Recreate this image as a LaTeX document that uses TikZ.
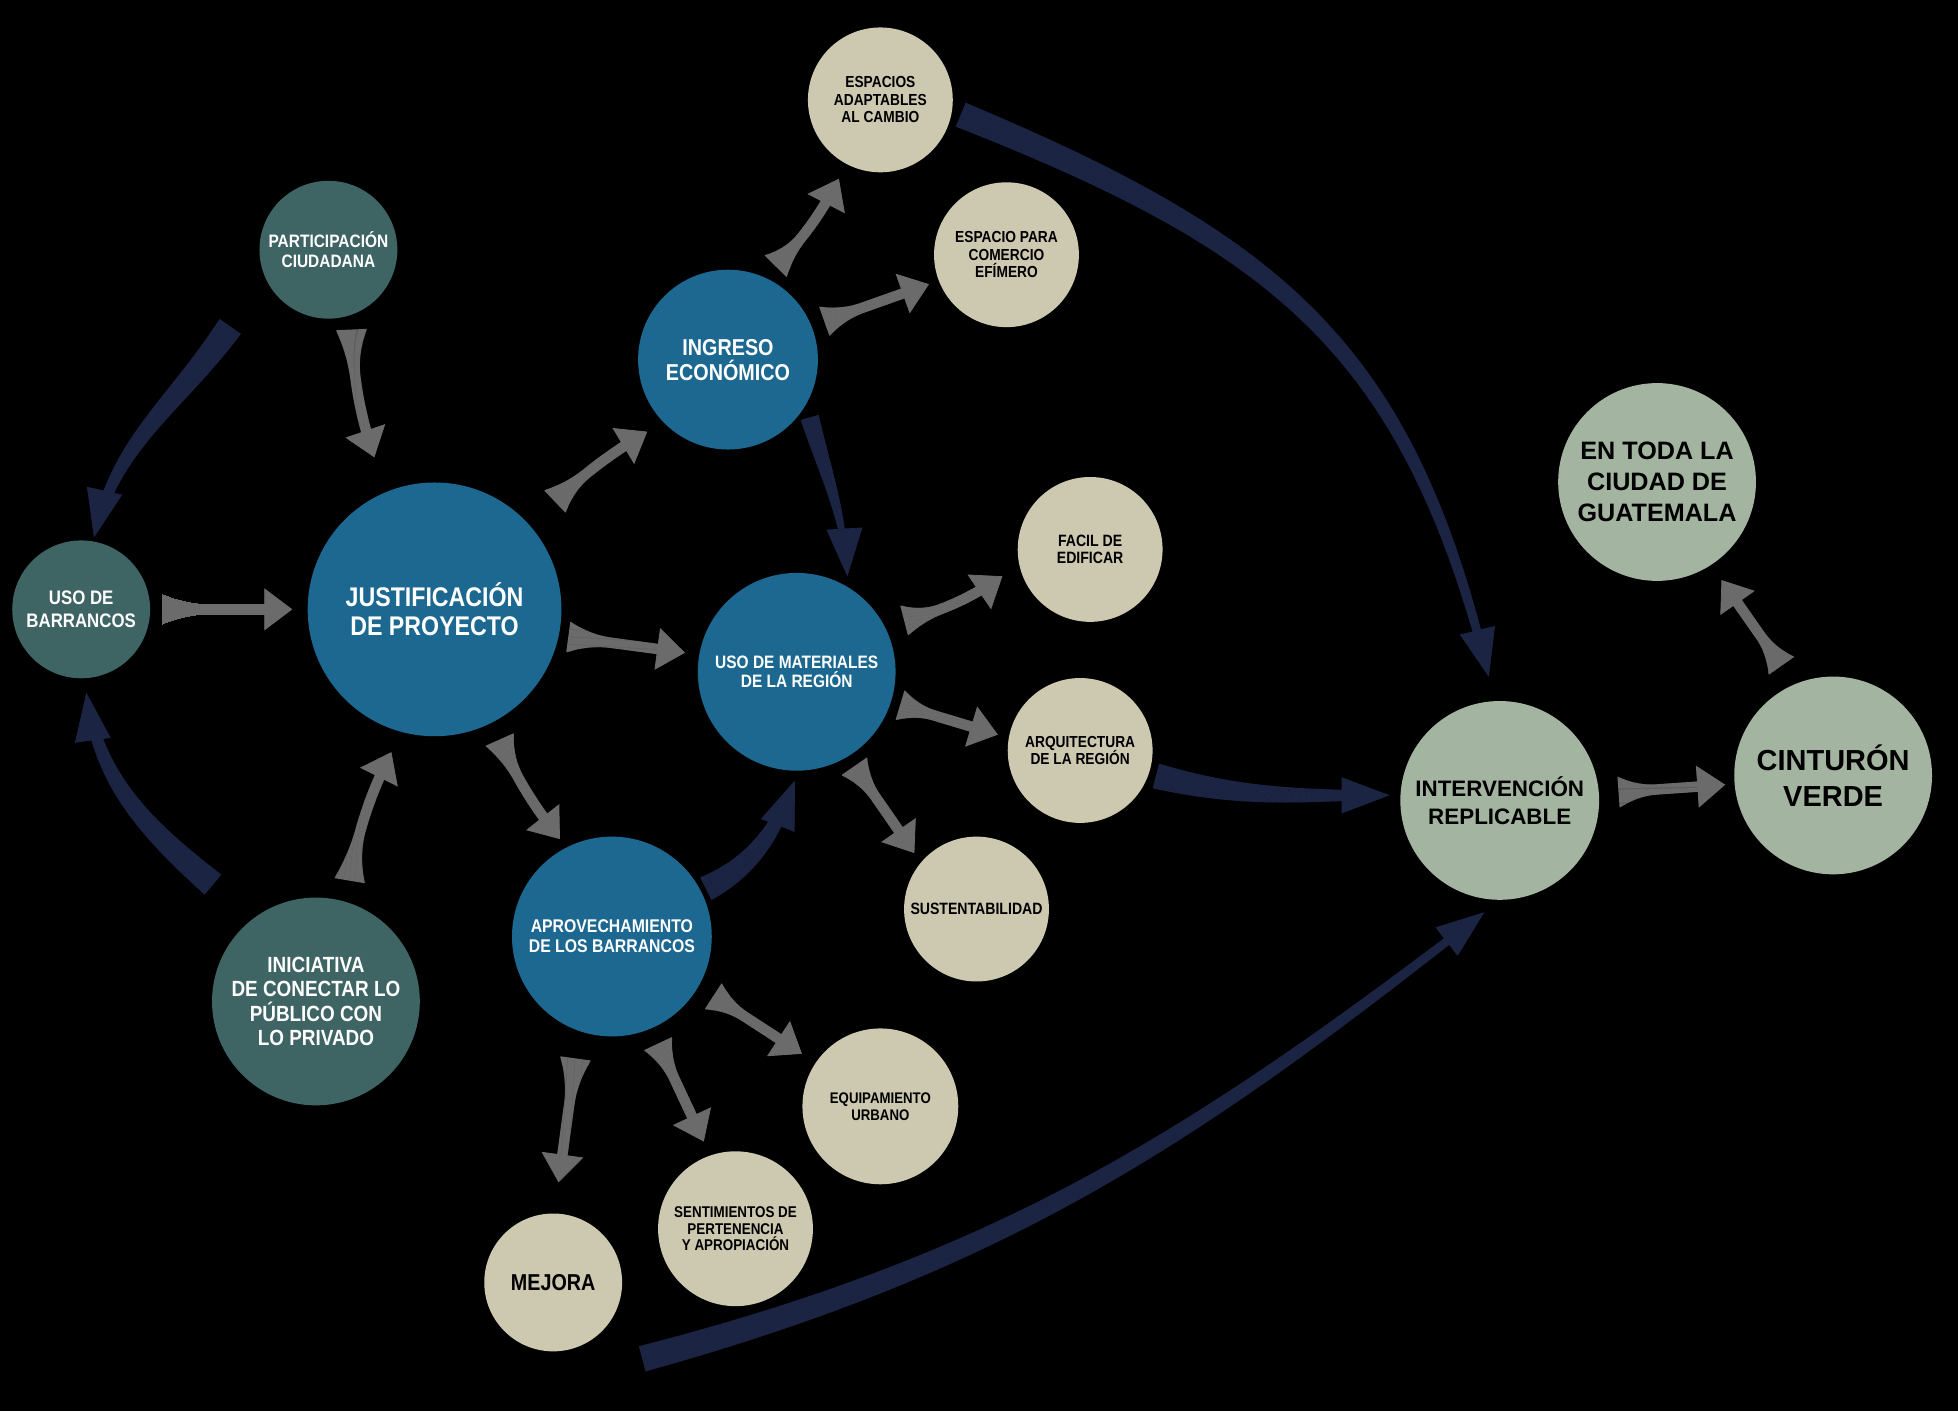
\documentclass[tikz,border=0pt]{standalone}
\usepackage{fontspec}
\setmainfont{Liberation Sans}
\newfontfamily\narrowsf[FakeStretch=0.86]{Liberation Sans}
\usepackage{xcolor}
\usetikzlibrary{arrows.meta,decorations.markings}

\definecolor{slate}{HTML}{3E6464}
\definecolor{ocean}{HTML}{1C6890}
\definecolor{sand}{HTML}{CDC8B0}
\definecolor{sage}{HTML}{A3B5A0}
\definecolor{ink}{HTML}{1C2444}
\definecolor{ash}{HTML}{6B6B6B}

\newcommand\condf[2]{\narrowsf\bfseries\fontsize{#1}{#2}\selectfont}
\newcommand\widef[2]{\bfseries\fontsize{#1}{#2}\selectfont}
\newcommand\markpos{\pgfkeysvalueof{/pgf/decoration/mark info/distance from start}}

\begin{document}
\begin{tikzpicture}[
      x=0.625pt, y=0.625pt,
      bubble/.style={circle, inner sep=0pt, align=center},
      root/.style={bubble, fill=slate, text=white},
      hub/.style={bubble, fill=ocean, text=white},
      leaf/.style={bubble, fill=sand, text=black},
      goal/.style={bubble, fill=sage, text=black},
      flow/.style 2 args={color=ash, postaction={decorate, decoration={markings,
                  mark=between positions #1 and -#2-12pt step 0.5pt with {
                    \pgfmathsetlengthmacro\halfw{2.6pt+5pt*max(0,1-2.1*(\markpos-#1)/(\pgfdecoratedpathlength-#1-#2-14pt))^2}
                    \fill (-0.35pt,-\halfw) rectangle (0.35pt,\halfw);},
                  mark=at position -#2 with {\arrow{Triangle[width=21pt, length=14pt]}}}}},
      link/.style n args={3}{color=ink, postaction={decorate, decoration={markings,
                  mark=between positions #1 and -#2-22pt step 0.7pt with {
                    \pgfmathsetlengthmacro\halfw{#3pt-4.8pt*\markpos/\pgfdecoratedpathlength}
                    \fill (-0.45pt,-\halfw) rectangle (0.45pt,\halfw);},
                  mark=at position -#2 with {\arrow{Triangle[width=18pt, length=24pt]}}}}}
    ]
    \useasboundingbox (0,0) rectangle (1568,1130);
    \fill[black] (0,0) rectangle (1568,1130);

    \node[root, minimum size=69pt, font=\condf{9}{10}] (part) at (263,930) {PARTICIPACIÓN\\CIUDADANA};
    \node[root, minimum size=69pt, font=\condf{9.8}{11.3}] (barrancos) at (65,642) {USO DE\\BARRANCOS};
    \node[hub, minimum size=127pt, font=\condf{13.5}{14.5}] (just) at (348,642) {JUSTIFICACIÓN\\DE PROYECTO};
    \node[root, minimum size=104pt, font=\condf{11}{12.3}] (inic) at (253,328) {INICIATIVA\\DE CONECTAR LO\\PÚBLICO CON\\LO PRIVADO};
    \node[hub, minimum size=90pt, font=\condf{11.5}{12.5}] (ingreso) at (583,842) {INGRESO\\ECONÓMICO};
    \node[leaf, minimum size=72.5pt, font=\condf{8}{8.75}] (adapt) at (705,1050) {ESPACIOS\\ADAPTABLES\\AL CAMBIO};
    \node[leaf, minimum size=72.5pt, font=\condf{8}{8.75}] (comercio) at (806,926) {ESPACIO PARA\\COMERCIO\\EFÍMERO};
    \node[hub, minimum size=99pt, font=\condf{9}{10}] (mater) at (638,592) {USO DE MATERIALES\\DE LA REGIÓN};
    \node[leaf, minimum size=72.5pt, font=\condf{8.2}{8.75}] (facil) at (873,690) {FACIL DE\\EDIFICAR};
    \node[leaf, minimum size=72.5pt, font=\condf{8}{8.75}] (arq) at (865,529) {ARQUITECTURA\\DE LA REGIÓN};
    \node[leaf, minimum size=72.5pt, font=\condf{8.2}{8.75}] (sust) at (782,402) {SUSTENTABILIDAD};
    \node[hub, minimum size=100pt, font=\condf{9.2}{10}] (aprov) at (490,380) {APROVECHAMIENTO\\DE LOS BARRANCOS};
    \node[leaf, minimum size=78pt, font=\condf{7.7}{8.4}] (equip) at (705,244) {EQUIPAMIENTO\\URBANO};
    \node[leaf, minimum size=77.5pt, font=\condf{7.8}{8.4}] (sentim) at (589,146) {SENTIMIENTOS DE\\PERTENENCIA\\Y APROPIACIÓN};
    \node[leaf, minimum size=69pt, font=\condf{11.5}{12.5}] (mejora) at (443,103) {MEJORA};
    \node[goal, minimum size=99.5pt, font=\widef{11.2}{13.8}] (interv) at (1201,489) {INTERVENCIÓN\\REPLICABLE};
    \node[goal, minimum size=99pt, font=\widef{14.5}{18}] (cinturon) at (1468,509) {CINTURÓN\\VERDE};
    \node[goal, minimum size=99pt, font=\widef{12.6}{15.6}] (ciudad) at (1327,744) {EN TODA LA\\CIUDAD DE\\GUATEMALA};

    \coordinate (partout) at (184,868);
    \coordinate (inicout) at (170,422);
    \coordinate (mejoraout) at (515,42);

    \path[flow={7.5pt}{18pt}] (part.-71) to[bend right=10] (just.112);
    \path[flow={6pt}{7.5pt}] (barrancos.0) -- (just.180);
    \path[flow={11pt}{11pt}] (inic.73) to[bend left=10] (just.255);
    \path[flow={17.5pt}{9pt}] (just.41) to[bend left=8] (ingreso.224);
    \path[flow={5pt}{7pt}] (just.-12) -- (mater.170);
    \path[flow={9.5pt}{5pt}] (just.-63) to[bend right=8] (aprov.117);
    \path[flow={8pt}{8pt}] (ingreso.66) to[bend right=10] (adapt.242);
    \path[flow={7pt}{5pt}] (ingreso.22) -- (comercio.201);
    \path[flow={10.5pt}{10pt}] (mater.28) to[bend right=12] (facil.192);
    \path[flow={5pt}{5.5pt}] (mater.-18) -- (arq.170);
    \path[flow={6pt}{5.5pt}] (mater.-59) -- (sust.140);
    \path[flow={9pt}{8pt}] (aprov.-30) -- (equip.146);
    \path[flow={8.5pt}{7.5pt}] (aprov.-67) -- (sentim.109);
    \path[flow={14pt}{15.5pt}] (aprov.251) -- (mejora.89);
    \path[flow={10pt}{4.5pt}] (interv.4) -- (cinturon.185);
    \path[flow={11.5pt}{9pt}] (cinturon.113) -- (ciudad.-57);

    \path[link={0pt}{2pt}{6.5}] (partout) to[out=235, in=78] (barrancos.80);
    \path[link={0pt}{7pt}{6.5}] (inicout) to[out=140, in=275] (barrancos.-87);
    \path[link={7pt}{5pt}{5}] (ingreso.-30) to[out=285, in=92] (mater.59);
    \path[link={3pt}{5pt}{6.5}] (aprov.27) to[out=25, in=250] (mater.-89);
    \path[link={5pt}{17pt}{6.5}] (adapt.-9) to[out=338, in=103, looseness=1.15] (interv.93);
    \path[link={4pt}{5pt}{6.5}] (arq.-19) to[out=-15, in=180] (interv.177);
    \path[link={0pt}{16pt}{6.5}] (mejoraout) to[out=15, in=218] (interv.-90);
  \end{tikzpicture}
\end{document}
